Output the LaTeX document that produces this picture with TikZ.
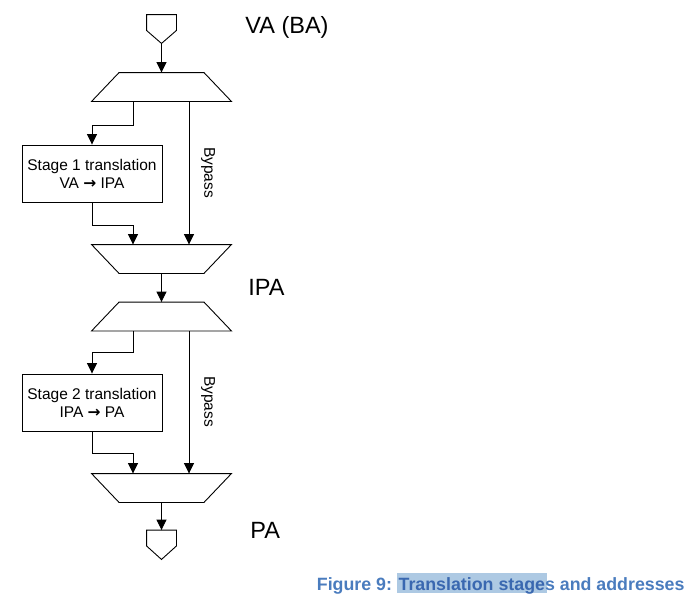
\documentclass[tikz,border=0pt]{standalone}
\usepackage{fontspec}
\setmainfont{Liberation Sans}
\newfontfamily\symfont{DejaVu Sans}
\usetikzlibrary{arrows.meta,calc}
\definecolor{capblue}{RGB}{74,124,190}
\definecolor{capdark}{RGB}{58,104,176}
\definecolor{hilite}{RGB}{173,201,227}
\newcommand{\rarr}{{\symfont\bfseries →}}
\begin{document}
\begin{tikzpicture}[x=1pt,y=-1pt, line width=0.9pt,
  arr/.style={-{Triangle[length=10.5pt,width=10pt]}},
  stagebox/.style={draw, minimum width=140pt, minimum height=57pt, inner sep=0pt, align=center, font=\fontsize{15.5}{18}\selectfont},
  muxbox/.style={minimum width=139pt, minimum height=28pt, inner sep=0pt},
  portbox/.style={minimum width=29pt, minimum height=15pt, inner sep=0pt},
  addr/.style={font=\fontsize{23.5}{28}\selectfont, inner sep=0pt, anchor=west},
  bypasslabel/.style={font=\fontsize{15.5}{18}\selectfont, rotate=-90, inner sep=0pt},
]
\useasboundingbox (0,0) rectangle (694,597);

% input port
\node[portbox] (vin) at (161.5,22.5) {};
\coordinate (vintip) at ($(vin.south)+(0,13)$);
\draw (vin.north west) -- (vin.north east) -- (vin.south east) -- (vintip) -- (vin.south west) -- cycle;

% mux 1 (narrow top)
\node[muxbox] (m1) at (161.5,87) {};
\draw ($(m1.north west)+(27.5,0)$) -- ($(m1.north east)+(-27.5,0)$) -- (m1.south east) -- (m1.south west) -- cycle;
\coordinate (m1o1) at ($(m1.south)+(-28.5,0)$);
\coordinate (m1o2) at ($(m1.south)+(27.5,0)$);

% stage 1
\node[stagebox] (s1) at (92,173.5) {Stage 1 translation\\VA \rarr{} IPA};

% mux 2 (narrow bottom)
\node[muxbox] (m2) at (161.5,259) {};
\draw (m2.north west) -- (m2.north east) -- ($(m2.south east)+(-27.5,0)$) -- ($(m2.south west)+(27.5,0)$) -- cycle;
\coordinate (m2i1) at ($(m2.north)+(-28.5,0)$);
\coordinate (m2i2) at ($(m2.north)+(27.5,0)$);

% mux 3 (narrow top)
\node[muxbox] (m3) at (161.5,316.5) {};
\draw ($(m3.north west)+(27.5,0)$) -- ($(m3.north east)+(-27.5,0)$) -- (m3.south east) -- (m3.south west) -- cycle;
\coordinate (m3o1) at ($(m3.south)+(-28.5,0)$);
\coordinate (m3o2) at ($(m3.south)+(27.5,0)$);

% stage 2
\node[stagebox] (s2) at (92,402.5) {Stage 2 translation\\IPA \rarr{} PA};

% mux 4 (narrow bottom)
\node[muxbox] (m4) at (161.5,488) {};
\draw (m4.north west) -- (m4.north east) -- ($(m4.south east)+(-27.5,0)$) -- ($(m4.south west)+(27.5,0)$) -- cycle;
\coordinate (m4i1) at ($(m4.north)+(-28.5,0)$);
\coordinate (m4i2) at ($(m4.north)+(27.5,0)$);

% output port
\node[portbox] (vout) at (161.5,538) {};
\coordinate (vouttip) at ($(vout.south)+(0,13.5)$);
\draw (vout.north west) -- (vout.north east) -- (vout.south east) -- (vouttip) -- (vout.south west) -- cycle;

% connectors
\draw[arr] (vintip) -- (m1.north);
\draw[arr] (m1o1) -- ++(0,24) -| (s1.north);
\draw[arr] (s1.south) -- ++(0,22.5) -| (m2i1);
\draw[arr] (m1o2) -- (m2i2);
\draw[arr] (m2.south) -- (m3.north);
\draw[arr] (m3o1) -- ++(0,21) -| (s2.north);
\draw[arr] (s2.south) -- ++(0,22) -| (m4i1);
\draw[arr] (m3o2) -- (m4i2);
\draw[arr] (m4.south) -- (vout.north);

% labels
\node[bypasslabel] (bp1) at (208,172.5) {Bypass};
\node[bypasslabel] (bp2) at (208,401.5) {Bypass};
\node[addr] (lva) at (245,27) {VA (BA)};
\node[addr] (lipa) at (248,287) {IPA};
\node[addr] (lpa) at (250,530) {PA};

% caption
\fill[hilite] (397,573) rectangle (547,593);
\node[anchor=base east, inner sep=0pt, text=capblue, font=\fontsize{17.8}{21}\selectfont\bfseries] (cap) at (685,590) {Figure 9: {\color{capdark}Translation stage}s and addresses};
\end{tikzpicture}
\end{document}
